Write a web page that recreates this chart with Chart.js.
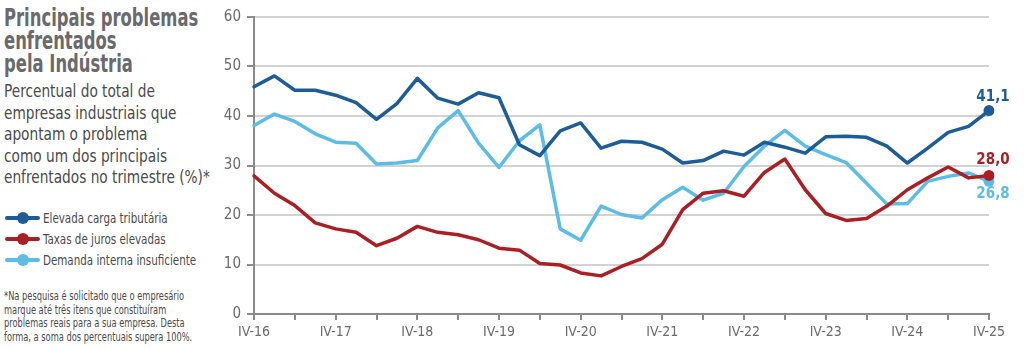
<!DOCTYPE html>
<html><head><meta charset="utf-8">
<script src="https://cdn.jsdelivr.net/npm/chart.js@4.4.1/dist/chart.umd.min.js"></script>
<style>
html,body{margin:0;padding:0;background:#fff;width:1024px;height:349px;overflow:hidden;}
body{position:relative;font-family:"DejaVu Sans Condensed","Liberation Sans Narrow",sans-serif;}
#title{position:absolute;left:4px;top:7px;font-size:24px;font-weight:bold;line-height:23px;color:#6a6a6c;white-space:nowrap;transform:scaleX(0.76);transform-origin:0 0;}
#sub{position:absolute;left:4px;top:81px;font-size:17.5px;line-height:21.5px;color:#4a4a4c;white-space:nowrap;transform:scaleX(0.87);transform-origin:0 0;}
#legend{position:absolute;left:5px;top:207px;font-size:14px;color:#4a4a4c;}
.li{height:21px;display:flex;align-items:center;white-space:nowrap;}
.li span.t{display:inline-block;transform:scaleX(0.82);transform-origin:0 50%;}
.sw{position:relative;width:35px;height:4px;margin-right:3px;border-radius:2px;flex:none;}
.sw i{position:absolute;left:12px;top:-4px;width:12px;height:12px;border-radius:50%;}
#note{position:absolute;left:4px;top:290px;font-size:11.5px;line-height:13.6px;color:#4a4a4c;white-space:nowrap;transform:scaleX(0.80);transform-origin:0 0;}
#wrap{position:absolute;left:200px;top:0;width:824px;height:349px;}
</style></head>
<body>
<div id="title">Principais problemas<br>enfrentados<br>pela Indústria</div>
<div id="sub">Percentual do total de<br>empresas industriais que<br>apontam o problema<br>como um dos principais<br>enfrentados no trimestre (%)*</div>
<div id="legend"></div>
<div id="note">*Na pesquisa é solicitado que o empresário<br>marque até três itens que constituíram<br>problemas reais para a sua empresa. Desta<br>forma, a soma dos percentuais supera 100%.</div>
<div id="wrap"><canvas id="c" width="824" height="349"></canvas></div>
<script>
const categories = ["IV-16","I-17","II-17","III-17","IV-17","I-18","II-18","III-18","IV-18","I-19","II-19","III-19","IV-19","I-20","II-20","III-20","IV-20","I-21","II-21","III-21","IV-21","I-22","II-22","III-22","IV-22","I-23","II-23","III-23","IV-23","I-24","II-24","III-24","IV-24","I-25","II-25","III-25","IV-25"];
const seriesNames = ["Elevada carga tributária","Taxas de juros elevadas","Demanda interna insuficiente"];
const cargaTributaria = [45.9,48.1,45.2,45.2,44.2,42.7,39.3,42.5,47.6,43.6,42.4,44.7,43.7,34.2,32.0,37.0,38.6,33.5,34.9,34.7,33.3,30.5,31.0,32.9,32.1,34.7,33.7,32.5,35.8,35.9,35.7,33.9,30.5,33.5,36.7,37.9,41.1];
const jurosElevados = [27.9,24.4,21.9,18.4,17.2,16.5,13.8,15.3,17.7,16.5,16.0,15.0,13.3,12.9,10.2,9.9,8.3,7.7,9.6,11.2,14.1,21.1,24.4,24.9,23.8,28.6,31.3,25.1,20.3,18.9,19.3,21.8,25.1,27.5,29.7,27.5,28.0];
const demandaInsuficiente = [38.1,40.4,38.9,36.4,34.7,34.5,30.3,30.5,31.0,37.6,41.1,34.5,29.6,35.0,38.2,17.2,14.9,21.8,20.1,19.4,23.1,25.6,23.0,24.4,29.8,33.9,37.1,33.9,32.2,30.6,26.4,22.2,22.3,26.8,27.8,28.5,26.8];
const yTicks = [0,10,20,30,40,50,60];

const colors = ["#1d5c97","#a91f24","#5bbde6"];
const labelOffsets = [-13,-15,13];
const FAM = '"DejaVu Sans Condensed","Liberation Sans Narrow",sans-serif';

const lg = document.getElementById('legend');
seriesNames.forEach((n,i)=>{
  const d=document.createElement('div'); d.className='li';
  d.innerHTML='<span class="sw" style="background:'+colors[i]+'"><i style="background:'+colors[i]+'"></i></span><span class="t">'+n+'</span>';
  lg.appendChild(d);
});

const last = categories.length-1;
const endLabels = {
  id:'endLabels',
  afterDatasetsDraw(chart){
    const ctx = chart.ctx;
    chart.data.datasets.forEach((ds,i)=>{
      const meta = chart.getDatasetMeta(i);
      const pt = meta.data[meta.data.length-1];
      const v = ds.data[ds.data.length-1];
      ctx.save();
      ctx.font = 'bold 15px '+FAM;
      ctx.fillStyle = ds.borderColor;
      ctx.textAlign='center'; ctx.textBaseline='middle';
      ctx.fillText(v.toFixed(1).replace('.',','), pt.x+4, pt.y+labelOffsets[ds.sIdx]);
      ctx.restore();
    });
  }
};

Chart.defaults.font.family = FAM;
const mk = (i,data)=>({
  label: seriesNames[i], sIdx:i, data, borderColor: colors[i], backgroundColor: colors[i],
  borderWidth: 3.5, tension: 0, borderJoinStyle:'round', borderCapStyle:'round',
  pointRadius: c=>c.dataIndex===last?5.5:0, pointHoverRadius:0, pointBorderWidth:0
});
new Chart(document.getElementById('c'),{
  type:'line',
  data:{labels:categories, datasets:[mk(0,cargaTributaria),mk(1,jurosElevados),mk(2,demandaInsuficiente)]},
  options:{
    responsive:false, animation:false, events:[],
    layout:{padding:{top:17,right:35,bottom:0,left:0}},
    plugins:{legend:{display:false},tooltip:{enabled:false}},
    scales:{
      x:{
        offset:false,
        grid:{drawOnChartArea:false,drawTicks:true,tickLength:6,color:'#8a8a8a',lineWidth:2},
        border:{color:'#8a8a8a',width:2},
        ticks:{autoSkip:false,maxRotation:0,padding:4,color:'#6a6a6c',font:{size:14},
          callback:(v,i)=> i%4===0?categories[i]:(i%2===0?'':null)},
        afterFit:s=>{s.height=35;}
      },
      y:{
        min:0,max:60,
        afterBuildTicks:s=>{s.ticks=yTicks.map(v=>({value:v}));},
        grid:{color:'#d2d2d2',lineWidth:2,drawTicks:true,tickLength:7,tickColor:'#8a8a8a'},
        border:{color:'#8a8a8a',width:2},
        ticks:{padding:6,color:'#6a6a6c',font:{size:15}},
        afterFit:s=>{s.width=54;}
      }
    }
  },
  plugins:[endLabels]
});
</script>
</body></html>
